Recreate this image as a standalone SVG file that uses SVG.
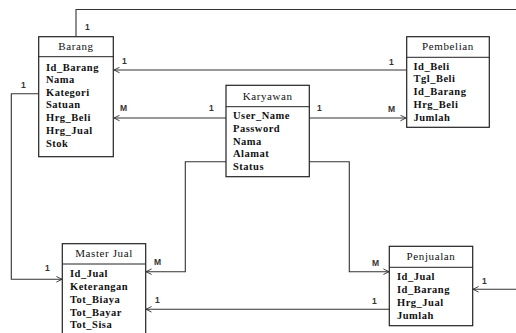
<svg xmlns="http://www.w3.org/2000/svg" width="516" height="333" viewBox="0 0 516 333">
<style>
.box{fill:#fff;stroke:#222;stroke-width:1.2}
.div{stroke:#222;stroke-width:1}
.t{font-family:"Liberation Serif",serif;font-size:11px;fill:#111;text-anchor:middle;letter-spacing:0.6px}
.a{font-family:"Liberation Serif",serif;font-size:10.5px;fill:#111;font-weight:bold;letter-spacing:0.5px}
.c{fill:none;stroke:#333;stroke-width:1.1}
.l{font-family:"Liberation Sans",sans-serif;font-size:8.5px;fill:#333;font-weight:bold}
</style>
<defs>
<marker id="ah" viewBox="0 0 10 10" refX="9" refY="5" markerWidth="7" markerHeight="7" markerUnits="userSpaceOnUse" orient="auto">
<path d="M1,1 L9,5 L1,9" fill="none" stroke="#333" stroke-width="1.3"/>
</marker>
</defs>
<g id="connectors">
<polyline class="c" points="76,37 76,9.5 516,9.5"/>
<line class="c" x1="406.7" y1="70" x2="114" y2="70" marker-end="url(#ah)"/>
<line class="c" x1="226" y1="118" x2="114" y2="118" marker-end="url(#ah)"/>
<line class="c" x1="309.3" y1="118" x2="406" y2="118" marker-end="url(#ah)"/>
<polyline class="c" points="38.7,93.7 11.3,93.7 11.3,279.3 62,279.3" marker-end="url(#ah)"/>
<polyline class="c" points="226,161.7 185.3,161.7 185.3,271.7 146,271.7" marker-end="url(#ah)"/>
<polyline class="c" points="309.3,161.7 349.3,161.7 349.3,271.7 389,271.7" marker-end="url(#ah)"/>
<line class="c" x1="516" y1="289.3" x2="473" y2="289.3" marker-end="url(#ah)"/>
<line class="c" x1="389.3" y1="309.3" x2="146" y2="309.3" marker-end="url(#ah)"/>
<text class="l" x="85" y="30">1</text>
<text class="l" x="122" y="64">1</text>
<text class="l" x="389" y="65">1</text>
<text class="l" x="120" y="111">M</text>
<text class="l" x="209" y="111">1</text>
<text class="l" x="317" y="111">1</text>
<text class="l" x="388" y="112">M</text>
<text class="l" x="21" y="88">1</text>
<text class="l" x="45" y="271">1</text>
<text class="l" x="154" y="265">M</text>
<text class="l" x="372" y="266">M</text>
<text class="l" x="482" y="284">1</text>
<text class="l" x="155" y="303">1</text>
<text class="l" x="372" y="304">1</text>
</g>
<g id="barang">
<rect class="box" x="38.7" y="36.7" width="74.6" height="120"/>
<line class="div" x1="38.7" y1="56.7" x2="113.3" y2="56.7"/>
<text class="t" x="76" y="50">Barang</text>
<text class="a" x="46" y="70.5">Id_Barang</text>
<text class="a" x="46" y="83">Nama</text>
<text class="a" x="46" y="95.7">Kategori</text>
<text class="a" x="46" y="108.4">Satuan</text>
<text class="a" x="46" y="121.3">Hrg_Beli</text>
<text class="a" x="46" y="134">Hrg_Jual</text>
<text class="a" x="46" y="146.7">Stok</text>
</g>
<g id="pembelian">
<rect class="box" x="406.7" y="36.7" width="82.6" height="90.6"/>
<line class="div" x1="406.7" y1="57.3" x2="489.3" y2="57.3"/>
<text class="t" x="448" y="49.5">Pembelian</text>
<text class="a" x="413.5" y="69.7">Id_Beli</text>
<text class="a" x="413.5" y="82.4">Tgl_Beli</text>
<text class="a" x="413.5" y="95.2">Id_Barang</text>
<text class="a" x="413.5" y="108">Hrg_Beli</text>
<text class="a" x="413.5" y="120.8">Jumlah</text>
</g>
<g id="karyawan">
<rect class="box" x="226" y="85.3" width="83.3" height="91.4"/>
<line class="div" x1="226" y1="106.7" x2="309.3" y2="106.7"/>
<text class="t" x="267.7" y="99.5">Karyawan</text>
<text class="a" x="233" y="119.3">User_Name</text>
<text class="a" x="233" y="131.8">Password</text>
<text class="a" x="233" y="144.6">Nama</text>
<text class="a" x="233" y="157.4">Alamat</text>
<text class="a" x="233" y="170">Status</text>
</g>
<g id="masterjual">
<rect class="box" x="62.3" y="243.7" width="83.4" height="100"/>
<line class="div" x1="62.3" y1="264" x2="145.7" y2="264"/>
<text class="t" x="104" y="256.5">Master Jual</text>
<text class="a" x="70" y="277">Id_Jual</text>
<text class="a" x="70" y="289.7">Keterangan</text>
<text class="a" x="70" y="303.2">Tot_Biaya</text>
<text class="a" x="70" y="315.6">Tot_Bayar</text>
<text class="a" x="70" y="328.2">Tot_Sisa</text>
</g>
<g id="penjualan">
<rect class="box" x="389.3" y="246.3" width="83.4" height="79.4"/>
<line class="div" x1="389.3" y1="267.3" x2="472.7" y2="267.3"/>
<text class="t" x="431" y="259.5">Penjualan</text>
<text class="a" x="397" y="279.7">Id_Jual</text>
<text class="a" x="397" y="292.6">Id_Barang</text>
<text class="a" x="397" y="305.6">Hrg_Jual</text>
<text class="a" x="397" y="318.5">Jumlah</text>
</g>
</svg>
